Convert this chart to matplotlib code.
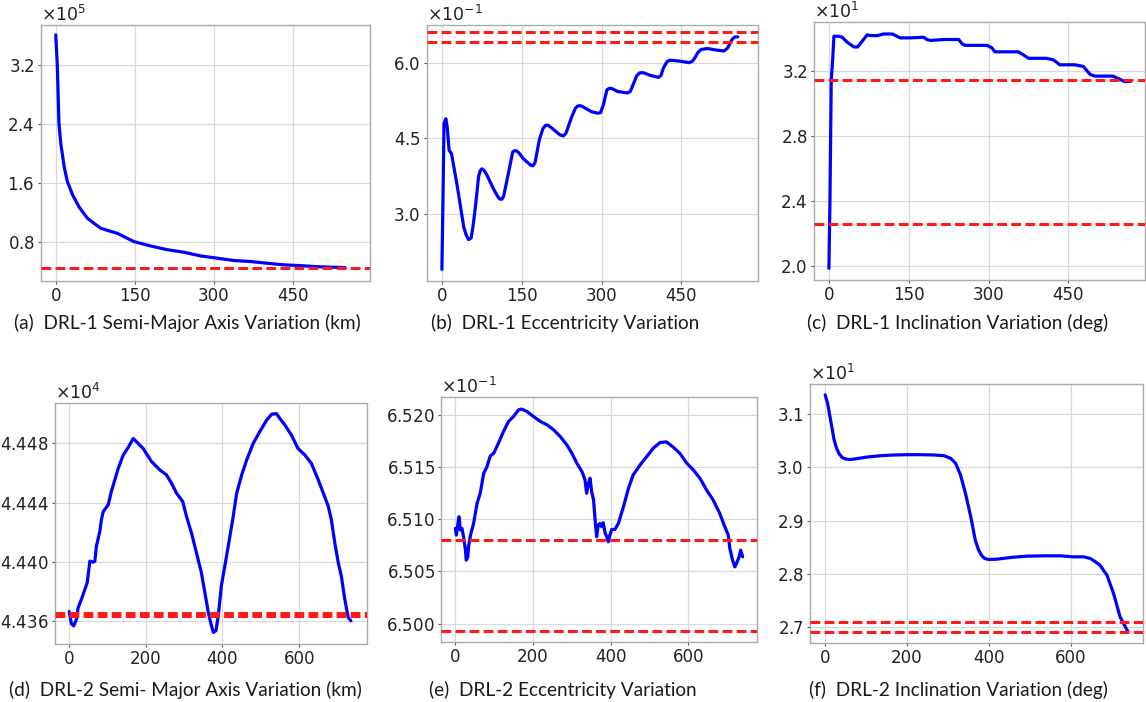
import numpy as np
import matplotlib
matplotlib.use("Agg")
import matplotlib.pyplot as plt
from matplotlib.ticker import MultipleLocator, ScalarFormatter

plt.rcParams['font.family'] = ['DejaVu Sans']
plt.rcParams['mathtext.fontset'] = 'dejavusans'

# ---- DRL-1 (top row) ----
sma1_x = [0, 3, 6, 9.5, 16, 22, 32, 44, 60, 85, 117, 148, 180, 211, 243, 275,
          306, 338, 369, 401, 432, 464, 495, 527, 549]
sma1_y = [3.606, 3.18, 2.41, 2.14, 1.82, 1.62, 1.44, 1.28, 1.125, 0.99, 0.92, 0.81,
          0.75, 0.70, 0.665, 0.615, 0.585, 0.553, 0.54, 0.516, 0.495, 0.484, 0.47,
          0.462, 0.457]  # x1e5 km
sma1_ref = [0.456]

ecc1_x = [0, 2, 4, 7.4, 10, 13.5, 18, 29, 41, 46, 50, 55, 59, 63, 69, 72, 75, 79,
          84, 97, 105, 109, 113, 116, 124, 133, 137, 141, 146, 152, 167, 171, 175,
          183, 190, 195, 200, 207, 222, 228, 233, 244, 251, 255, 260, 266, 281, 293,
          298, 303, 310, 314, 319, 330, 349, 354, 358, 366, 372, 379, 391, 407, 412,
          416, 423, 429, 447, 465, 471, 475, 481, 487, 499, 515, 530, 535, 538, 543,
          547, 551, 556]
ecc1_y = [1.91, 3.28, 4.80, 4.89, 4.73, 4.27, 4.20, 3.55, 2.75, 2.58, 2.50, 2.53,
          2.80, 3.15, 3.75, 3.86, 3.90, 3.87, 3.79, 3.50, 3.35, 3.30, 3.30, 3.36,
          3.76, 4.23, 4.26, 4.25, 4.20, 4.11, 3.97, 3.96, 4.02, 4.47, 4.70, 4.76,
          4.76, 4.70, 4.57, 4.55, 4.60, 4.93, 5.10, 5.14, 5.15, 5.12, 5.03, 5.00,
          5.01, 5.15, 5.46, 5.49, 5.49, 5.43, 5.40, 5.43, 5.53, 5.74, 5.80, 5.80,
          5.75, 5.71, 5.75, 5.89, 6.02, 6.05, 6.03, 6.00, 6.03, 6.09, 6.20, 6.26,
          6.28, 6.25, 6.23, 6.27, 6.31, 6.42, 6.48, 6.51, 6.51]  # x1e-1
ecc1_ref = [6.60, 6.40]

inc1_x = [0, 2, 4.4, 7, 9.4, 19, 25, 34, 47, 54, 62.5, 72, 78, 91, 103, 119, 128,
          134, 153, 178, 184, 191, 216, 244, 250, 256, 297, 306, 312, 322, 356, 366,
          375, 409, 422, 434, 462, 478, 491, 500, 534, 547, 556, 567]
inc1_y = [1.984, 2.405, 3.145, 3.268, 3.416, 3.416, 3.41, 3.38, 3.35, 3.35, 3.385,
          3.425, 3.42, 3.42, 3.43, 3.43, 3.416, 3.406, 3.406, 3.41, 3.396, 3.39,
          3.396, 3.396, 3.37, 3.36, 3.36, 3.345, 3.32, 3.32, 3.32, 3.30, 3.28, 3.28,
          3.27, 3.24, 3.24, 3.23, 3.18, 3.17, 3.17, 3.15, 3.136, 3.138]  # x1e1 deg
inc1_ref = [3.149, 2.256]

# ---- DRL-2 (bottom row) ----
sma2_x = [0, 2, 6, 12, 19, 23.5, 32, 41, 47, 54, 63, 67, 71, 80, 84, 89, 102, 110,
          119, 128, 141, 154, 167, 176, 193, 215, 237, 254, 267, 280, 296, 306, 319,
          332, 345, 354, 363, 369, 376, 383, 389, 397, 406, 415, 428, 437, 450, 463,
          480, 497, 515, 528, 541, 550, 563, 580, 597, 615, 632, 650, 663, 676, 684,
          693, 702, 710, 719, 728, 735]
sma2_y = [4.43663, 4.43634, 4.43578, 4.43566, 4.43611, 4.43690, 4.43746, 4.43813,
          4.43858, 4.44004, 4.43997, 4.44004, 4.44105, 4.44206, 4.44284, 4.44340,
          4.44385, 4.44475, 4.44553, 4.44632, 4.44722, 4.44773, 4.44834, 4.44811,
          4.44766, 4.44677, 4.44620, 4.44587, 4.44531, 4.44464, 4.44408, 4.44307,
          4.44195, 4.44060, 4.43925, 4.43791, 4.43656, 4.43589, 4.43521, 4.43533,
          4.43634, 4.43836, 4.43970, 4.44105, 4.44307, 4.44464, 4.44587, 4.44688,
          4.44800, 4.44879, 4.44957, 4.44998, 4.45002, 4.44968, 4.44924, 4.44856,
          4.44766, 4.44722, 4.44665, 4.44553, 4.44464, 4.44374, 4.44284, 4.44127,
          4.43993, 4.43903, 4.43746, 4.43622, 4.43600]  # x1e4 km
sma2_ref = [4.43655, 4.43635]

ecc2_x = [0, 2.6, 6, 9.4, 13, 17, 21, 26, 28, 32, 34, 39, 47, 56, 64, 73, 81, 90,
          99, 111, 124, 137, 150, 163, 171, 184, 201, 219, 236, 253, 270, 287, 300,
          313, 326, 334, 338, 343, 347, 351, 356, 360, 364, 368, 373, 377, 381, 386,
          390, 394, 398, 403, 411, 420, 433, 446, 458, 476, 493, 510, 527, 544, 561,
          578, 596, 613, 630, 647, 664, 681, 694, 703, 707, 714, 720, 726, 731, 735,
          740]
ecc2_y = [6.50912, 6.50848, 6.50944, 6.51024, 6.50896, 6.50912, 6.50832, 6.50704,
          6.50608, 6.50640, 6.50736, 6.50848, 6.50960, 6.51152, 6.51248, 6.51440,
          6.51498, 6.51606, 6.51632, 6.51728, 6.51840, 6.51936, 6.51984, 6.52048,
          6.52054, 6.52032, 6.51984, 6.51936, 6.51904, 6.51856, 6.51792, 6.51712,
          6.51632, 6.51536, 6.51456, 6.51376, 6.51248, 6.51344, 6.51392, 6.51264,
          6.51184, 6.50992, 6.50832, 6.50944, 6.50960, 6.50928, 6.50966, 6.50864,
          6.50832, 6.50784, 6.50848, 6.50902, 6.50902, 6.50960, 6.51120, 6.51296,
          6.51424, 6.51520, 6.51600, 6.51680, 6.51734, 6.51740, 6.51690, 6.51632,
          6.51536, 6.51472, 6.51392, 6.51280, 6.51184, 6.51056, 6.50928, 6.50848,
          6.50720, 6.50608, 6.50544, 6.50592, 6.50640, 6.50704, 6.50640]  # x1e-1
ecc2_ref = [6.50802, 6.49926]

inc2_x = [0, 6, 14, 22, 28, 34, 42, 50, 60, 71, 103, 136, 168, 201, 233, 266, 290,
          307, 319, 331, 343, 356, 367, 375, 383, 390, 400, 420, 453, 493, 534, 575,
          607, 632, 648, 660, 672, 681, 689, 705, 721, 740]
inc2_y = [3.1365, 3.1208, 3.0862, 3.0517, 3.0360, 3.0260, 3.0185, 3.0160, 3.0150,
          3.0159, 3.0197, 3.0222, 3.0235, 3.0241, 3.0241, 3.0235, 3.0222, 3.0172,
          3.0078, 2.9858, 2.9513, 2.9073, 2.8634, 2.8450, 2.8340, 2.8290, 2.8270,
          2.8276, 2.8308, 2.8333, 2.8339, 2.8339, 2.8320, 2.8320, 2.8290, 2.8230,
          2.8163, 2.8060, 2.7975, 2.7630, 2.7190, 2.6915]  # x1e1 deg
inc2_ref = [2.7094, 2.6911]

captions = [
    "(a)  DRL-1 Semi-Major Axis Variation (km)",
    "(b)  DRL-1 Eccentricity Variation",
    "(c)  DRL-1 Inclination Variation (deg)",
    "(d)  DRL-2 Semi- Major Axis Variation (km)",
    "(e)  DRL-2 Eccentricity Variation",
    "(f)  DRL-2 Inclination Variation (deg)",
]

W, H = 1146, 702
fig = plt.figure(figsize=(W / 100, H / 100), dpi=100)

# (x, y, scale, refs, axes box px [l, t, r, b], xlim, ylim (scaled units), ystep, xstep, caption xy px)
panels = [
    (sma1_x, sma1_y, 1e5, sma1_ref, [41, 25, 370, 281], (-28, 596), (0.276, 3.74), 0.8, 150, (187, 323)),
    (ecc1_x, ecc1_y, 1e-1, ecc1_ref, [427, 25, 758, 281], (-28, 594), (1.68, 6.745), 1.5, 150, (565, 323)),
    (inc1_x, inc1_y, 1e1, inc1_ref, [814, 22, 1145, 280], (-28, 594), (1.912, 3.504), 0.4, 150, (958, 323)),
    (sma2_x, sma2_y, 1e4, sma2_ref, [55, 403, 367, 644], (-37, 777), (4.43443, 4.45074), 0.004, 200, (185, 690)),
    (ecc2_x, ecc2_y, 1e-1, ecc2_ref, [441, 397, 757, 642], (-37, 777), (6.49824, 6.52170), 0.005, 200, (563, 690)),
    (inc2_x, inc2_y, 1e1, inc2_ref, [810, 384, 1143, 643], (-37, 777), (2.670, 3.157), 0.1, 200, (958, 690)),
]

for i, (xs, ys, sc, refs, box, xl, yl, ystep, xstep, cap) in enumerate(panels):
    l, t, r, b = box
    ax = fig.add_axes([l / W, (H - b) / H, (r - l) / W, (b - t) / H])
    ax.plot(xs, np.array(ys) * sc, color="#0000ff", lw=2.3, zorder=3,
            solid_joinstyle="round", solid_capstyle="round")
    for v in refs:
        ax.axhline(v * sc, color="#ff1a1a", lw=2.2, linestyle=(0, (3.2, 1.4)), zorder=4)
    ax.set_xlim(*xl)
    ax.set_ylim(yl[0] * sc, yl[1] * sc)
    ax.xaxis.set_major_locator(MultipleLocator(xstep))
    ax.yaxis.set_major_locator(MultipleLocator(ystep * sc))
    fmt = ScalarFormatter(useMathText=True, useOffset=False)
    fmt.set_scientific(True)
    fmt.set_powerlimits((0, 0))
    ax.yaxis.set_major_formatter(fmt)
    ax.yaxis.get_offset_text().set_fontsize(12.5)
    ax.yaxis.get_offset_text().set_color("#222222")
    ax.grid(True, color="#d9d9d9", lw=0.9)
    ax.set_axisbelow(True)
    for s in ax.spines.values():
        s.set_color("#aaaaaa")
        s.set_linewidth(1.0)
    ax.tick_params(labelsize=12, labelcolor="#222222", color="#555555",
                   length=2.5, width=0.8, pad=2)
    fig.text(cap[0] / W, 1 - cap[1] / H, captions[i], ha="center", va="center",
             fontsize=13.7, family="Lato", color="#1a1a1a")

fig.savefig("out.png", dpi=100)
